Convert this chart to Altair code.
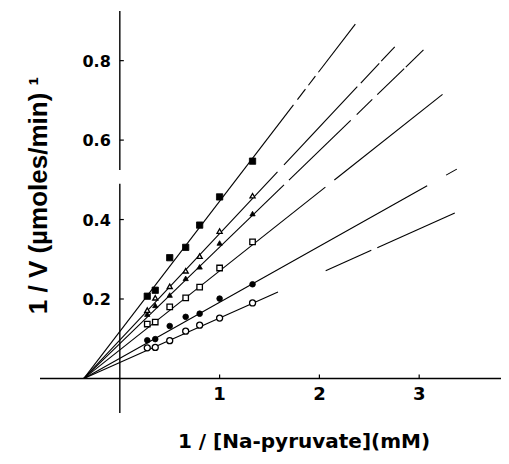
import altair as alt
import pandas as pd

# ---- data ----
x_vals = [0.275, 0.355, 0.5, 0.66, 0.8, 1.0, 1.33]
series = ["S1", "S2", "S3", "S4", "S5", "S6"]
y_s1 = [0.207, 0.222, 0.304, 0.330, 0.386, 0.457, 0.547]
y_s2 = [0.172, 0.203, 0.232, 0.271, 0.308, 0.371, 0.460]
y_s3 = [0.162, 0.184, 0.210, 0.252, 0.281, 0.341, 0.415]
y_s4 = [0.137, 0.142, 0.180, 0.203, 0.230, 0.278, 0.344]
y_s5 = [0.096, 0.099, 0.132, 0.155, 0.163, 0.201, 0.237]
y_s6 = [0.077, 0.078, 0.095, 0.119, 0.134, 0.152, 0.190]
y_all = [y_s1, y_s2, y_s3, y_s4, y_s5, y_s6]

shapes = ["square", "triangle-up", "triangle-up", "square", "circle", "circle"]
filled = [True, False, True, False, True, False]
sizes = [40, 26, 28, 30, 32, 36]

# fitted lines: common intersection on the x axis, slopes
x_conv = -0.36
slopes = [0.328, 0.268, 0.243, 0.199, 0.141, 0.112]
# drawn pieces of each (broken) printed line, as x ranges
segments = [
    [(-0.36, 1.74), (1.78, 1.86), (1.89, 1.96), (1.99, 2.36)],
    [(-0.36, 1.58), (1.645, 2.38), (2.415, 2.60), (2.62, 2.755)],
    [(-0.36, 1.645), (1.695, 2.314), (2.374, 2.53), (2.58, 2.85), (2.866, 3.043)],
    [(-0.36, 2.06), (2.15, 3.234)],
    [(-0.36, 3.08), (3.27, 3.377)],
    [(-0.36, 1.585), (2.063, 2.52), (2.58, 3.357)],
]

x_ticks = [1, 2, 3]
x_tick_labels = ["1", "2", "3"]
y_ticks = [0.2, 0.4, 0.6, 0.8]
y_tick_labels = ["0.2", "0.4", "0.6", "0.8"]

x_domain = [-0.8, 3.82]
y_domain = [-0.087, 0.925]
y_axis_pieces = [(-0.087, 0.49), (0.525, 0.925)]

# ---- build tables ----
pts = []
for s, ys, sh, f, sz in zip(series, y_all, shapes, filled, sizes):
    for xv, yv in zip(x_vals, ys):
        pts.append({"series": s, "x": xv, "y": yv, "shape": sh, "filled": f, "size": sz})
pts = pd.DataFrame(pts)

lines = []
for s, m, segs in zip(series, slopes, segments):
    for j, (a, b) in enumerate(segs):
        for xv in (a, b):
            lines.append({"series": s, "seg": f"{s}-{j}", "x": xv, "y": m * (xv - x_conv)})
lines = pd.DataFrame(lines)

xs = alt.Scale(domain=x_domain, nice=False, zero=False)
ys = alt.Scale(domain=y_domain, nice=False, zero=False)

X = alt.X("x:Q", scale=xs, axis=alt.Axis(
    title="1 / [Na-pyruvate](mM)", labels=False, ticks=False, domain=False, grid=False,
    titleFont="DejaVu Sans", titleFontSize=20, titleFontWeight="bold", titleColor="black",
    titleX=263.5, titleY=34, titleAlign="center", titleBaseline="alphabetic"))
Y = alt.Y("y:Q", scale=ys, axis=alt.Axis(
    title="1 / V (µmoles/min) ¹", labels=False, ticks=False, domain=False, grid=False,
    titleFont="Liberation Sans", titleFontSize=26, titleFontWeight="bold", titleColor="black",
    titleX=6, titleY=184, titleAngle=270, titleAlign="center", titleBaseline="alphabetic"))

base_lines = alt.Chart(lines).mark_line(color="black", strokeWidth=1.1).encode(
    x=X, y=Y, detail="seg:N")

xaxis_df = pd.DataFrame({"x": [x_domain[0]], "x2": [x_domain[1]], "y": [0.0]})
xaxis = alt.Chart(xaxis_df).mark_rule(color="black", strokeWidth=1.4).encode(
    x=alt.X("x:Q", scale=xs), x2="x2:Q", y=alt.Y("y:Q", scale=ys))

yaxis_df = pd.DataFrame({"x": [0.0] * len(y_axis_pieces),
                         "y": [p[0] for p in y_axis_pieces],
                         "y2": [p[1] for p in y_axis_pieces]})
yaxis = alt.Chart(yaxis_df).mark_rule(color="black", strokeWidth=1.4).encode(
    x=alt.X("x:Q", scale=xs), y=alt.Y("y:Q", scale=ys), y2="y2:Q")

yt_df = pd.DataFrame({"x": [0.0] * len(y_ticks), "y": y_ticks, "label": y_tick_labels})
ytick = alt.Chart(yt_df).mark_rule(color="black", strokeWidth=1.2, x2Offset=4).encode(
    x=alt.X("x:Q", scale=xs), x2="x:Q", y=alt.Y("y:Q", scale=ys))
ylab = alt.Chart(yt_df).mark_text(font="DejaVu Sans", fontSize=16, fontWeight="bold",
                                  align="right", baseline="middle", dx=-9, dy=1,
                                  color="black").encode(
    x=alt.X("x:Q", scale=xs), y=alt.Y("y:Q", scale=ys), text="label:N")

xt_df = pd.DataFrame({"x": x_ticks, "y": [0.0] * len(x_ticks), "label": x_tick_labels})
xtick = alt.Chart(xt_df).mark_rule(color="black", strokeWidth=1.2, y2Offset=-4).encode(
    x=alt.X("x:Q", scale=xs), y=alt.Y("y:Q", scale=ys), y2="y:Q")
xlab = alt.Chart(xt_df).mark_text(font="DejaVu Sans", fontSize=18, fontWeight="bold",
                                  align="center", baseline="alphabetic", dy=22,
                                  color="black").encode(
    x=alt.X("x:Q", scale=xs), y=alt.Y("y:Q", scale=ys), text="label:N")

pts_filled = alt.Chart(pts).transform_filter("datum.filled").mark_point(
    filled=True, fill="black", stroke="black", strokeWidth=0.8, opacity=1).encode(
    x=alt.X("x:Q", scale=xs), y=alt.Y("y:Q", scale=ys),
    shape=alt.Shape("shape:N", scale=None), size=alt.Size("size:Q", scale=None))
pts_open = alt.Chart(pts).transform_filter("!datum.filled").mark_point(
    filled=False, fill="white", fillOpacity=1, stroke="black", strokeWidth=1.3, opacity=1).encode(
    x=alt.X("x:Q", scale=xs), y=alt.Y("y:Q", scale=ys),
    shape=alt.Shape("shape:N", scale=None), size=alt.Size("size:Q", scale=None))

chart = alt.layer(
    base_lines, xaxis, yaxis, ytick, xtick, ylab, xlab, pts_filled, pts_open
).properties(
    width=461, height=402,
    autosize=alt.AutoSizeParams(type="none"),
    padding={"left": 32, "top": 3, "right": 0, "bottom": 43},
    background="white",
).configure_view(strokeWidth=0)

chart.save("out.html", embed_options={"renderer": "svg", "actions": False})
